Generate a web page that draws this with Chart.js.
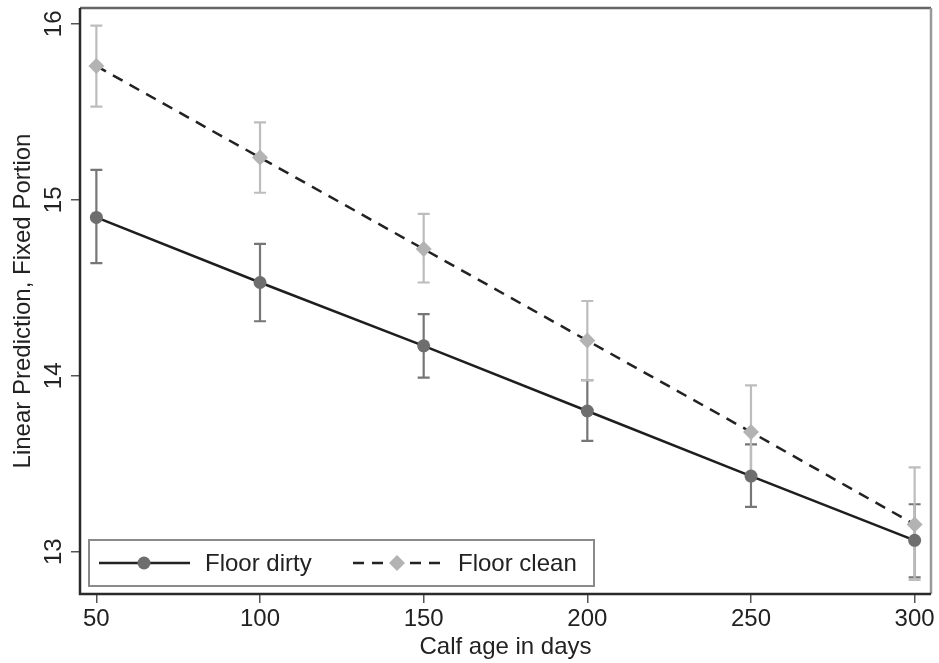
<!DOCTYPE html>
<html>
<head>
<meta charset="utf-8">
<script src="https://cdn.jsdelivr.net/npm/chart.js@4"></script>
<style>
  html, body { margin: 0; padding: 0; background: #fff; }
  #wrap { width: 939px; height: 663px; }
</style>
</head>
<body>
<div id="wrap"><canvas id="chart" width="939" height="663"></canvas></div>
<script>
const ages = [50, 100, 150, 200, 250, 300];

const dirtyMean = [14.90, 14.53, 14.17, 13.80, 13.43, 13.065];
const dirtyLow  = [14.64, 14.31, 13.99, 13.63, 13.255, 12.855];
const dirtyHigh = [15.17, 14.75, 14.35, 13.975, 13.61, 13.27];

const cleanMean = [15.76, 15.24, 14.72, 14.20, 13.68, 13.155];
const cleanLow  = [15.53, 15.04, 14.53, 13.975, 13.415, 12.84];
const cleanHigh = [15.99, 15.44, 14.92, 14.425, 13.945, 13.48];

const xTicks = [50, 100, 150, 200, 250, 300];
const yTicks = [13, 14, 15, 16];

const FONT = "'Liberation Sans', Arial, sans-serif";
const dirtyColor = "#6e6e6e";
const cleanColor = "#b3b3b3";

function pts(ys) {
    return ages.map((a, i) => ({ x: a, y: ys[i] }));
}

// confidence interval whiskers, drawn under the lines
const ciPlugin = {
    id: "ci",
    beforeDatasetsDraw(chart) {
        const ctx = chart.ctx;
        const xs = chart.scales.x, ys = chart.scales.y;
        const sets = [
            { lo: dirtyLow, hi: dirtyHigh, color: "#767676" },
            { lo: cleanLow, hi: cleanHigh, color: "#bdbdbd" }
        ];
        ctx.save();
        sets.forEach(s => {
            ctx.strokeStyle = s.color;
            ctx.lineWidth = 2.2;
            ages.forEach((a, i) => {
                const px = xs.getPixelForValue(a);
                const y1 = ys.getPixelForValue(s.lo[i]);
                const y2 = ys.getPixelForValue(s.hi[i]);
                ctx.beginPath();
                ctx.moveTo(px, y1); ctx.lineTo(px, y2);
                ctx.moveTo(px - 6, y1); ctx.lineTo(px + 6, y1);
                ctx.moveTo(px - 6, y2); ctx.lineTo(px + 6, y2);
                ctx.stroke();
            });
        });
        ctx.restore();
    }
};

// frame, rotated y tick labels and legend inside the plot
const decoPlugin = {
    id: "deco",
    afterDraw(chart) {
        const ctx = chart.ctx;
        const a = chart.chartArea;
        const ys = chart.scales.y;
        ctx.save();

        ctx.lineWidth = 2.5;
        ctx.strokeStyle = "#666";
        ctx.beginPath(); ctx.moveTo(a.left, a.top); ctx.lineTo(a.right, a.top); ctx.stroke();
        ctx.strokeStyle = "#999";
        ctx.beginPath(); ctx.moveTo(a.right, a.top); ctx.lineTo(a.right, a.bottom); ctx.stroke();
        ctx.strokeStyle = "#2a2a2a";
        ctx.beginPath(); ctx.moveTo(a.left, a.top); ctx.lineTo(a.left, a.bottom); ctx.lineTo(a.right, a.bottom); ctx.stroke();

        ctx.fillStyle = "#222";
        ctx.font = "24px " + FONT;
        ctx.textAlign = "center";
        ctx.textBaseline = "middle";
        yTicks.forEach(v => {
            const py = ys.getPixelForValue(v);
            ctx.save();
            ctx.translate(a.left - 27, py);
            ctx.rotate(-Math.PI / 2);
            ctx.fillText(String(v), 0, 1);
            ctx.restore();
        });

        // legend
        const lx = a.left + 9, ly = a.bottom - 54, lw = 505, lh = 46;
        ctx.fillStyle = "#fff";
        ctx.fillRect(lx, ly, lw, lh);
        ctx.strokeStyle = "#8a8a8a";
        ctx.lineWidth = 2;
        ctx.strokeRect(lx, ly, lw, lh);
        const cy = ly + lh / 2;

        ctx.strokeStyle = "#222";
        ctx.lineWidth = 2.5;
        ctx.setLineDash([]);
        ctx.beginPath(); ctx.moveTo(lx + 10, cy); ctx.lineTo(lx + 101, cy); ctx.stroke();
        ctx.fillStyle = dirtyColor;
        ctx.beginPath(); ctx.arc(lx + 55, cy, 6.5, 0, Math.PI * 2); ctx.fill();

        ctx.setLineDash([11, 8]);
        ctx.beginPath(); ctx.moveTo(lx + 264, cy); ctx.lineTo(lx + 354, cy); ctx.stroke();
        ctx.setLineDash([]);
        ctx.fillStyle = cleanColor;
        ctx.beginPath();
        ctx.moveTo(lx + 308, cy - 8); ctx.lineTo(lx + 316, cy);
        ctx.lineTo(lx + 308, cy + 8); ctx.lineTo(lx + 300, cy);
        ctx.closePath(); ctx.fill();

        ctx.fillStyle = "#222";
        ctx.textAlign = "left";
        ctx.fillText("Floor dirty", lx + 116, cy + 1);
        ctx.fillText("Floor clean", lx + 369, cy + 1);

        ctx.restore();
    }
};

const ctx = document.getElementById("chart");

const chart = new Chart(ctx, {
    type: "line",
    data: {
        datasets: [
            {
                label: "Floor dirty",
                data: pts(dirtyMean),
                borderColor: "#1e1e1e",
                borderWidth: 2.5,
                pointStyle: "circle",
                pointRadius: 6.5,
                pointBackgroundColor: dirtyColor,
                pointBorderWidth: 0,
                fill: false,
                tension: 0
            },
            {
                label: "Floor clean",
                data: pts(cleanMean),
                borderColor: "#222",
                borderWidth: 2.5,
                borderDash: [11, 8],
                pointStyle: "rectRot",
                pointRadius: 8,
                pointBackgroundColor: cleanColor,
                pointBorderWidth: 0,
                fill: false,
                tension: 0
            }
        ]
    },
    options: {
        responsive: false,
        animation: false,
        events: [],
        layout: { padding: { left: 0, right: 8, top: 8, bottom: 0 } },
        plugins: {
            legend: { display: false },
            tooltip: { enabled: false }
        },
        scales: {
            x: {
                type: "linear",
                min: 45,
                max: 305,
                afterBuildTicks: s => { s.ticks = xTicks.map(v => ({ value: v })); },
                afterFit: s => { s.height = 69; },
                grid: { drawOnChartArea: false, drawTicks: true, tickLength: 9, color: "#555", lineWidth: 1.5 },
                border: { display: false },
                ticks: { color: "#222", font: { family: FONT, size: 24 }, padding: 2, maxRotation: 0 },
                title: {
                    display: true,
                    text: "Calf age in days",
                    color: "#222",
                    font: { family: FONT, size: 24 },
                    padding: { top: 0, bottom: 1 }
                }
            },
            y: {
                min: 12.76,
                max: 16.09,
                afterBuildTicks: s => { s.ticks = yTicks.map(v => ({ value: v })); },
                afterFit: s => { s.width = 80; },
                grid: { drawOnChartArea: false, drawTicks: true, tickLength: 9, color: "#555", lineWidth: 1.5 },
                border: { display: false },
                ticks: { display: false },
                title: {
                    display: true,
                    text: "Linear Prediction, Fixed Portion",
                    color: "#222",
                    font: { family: FONT, size: 24 },
                    padding: { top: 9, bottom: 0 }
                }
            }
        }
    },
    plugins: [ciPlugin, decoPlugin]
});
</script>
</body>
</html>
